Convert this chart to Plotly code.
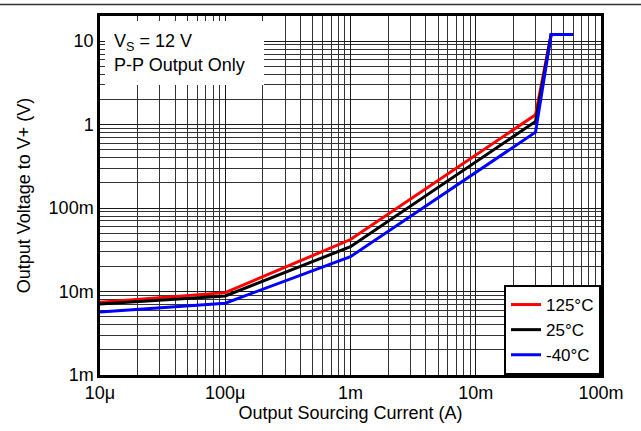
import plotly.graph_objects as go
import numpy as np

# Data (log-log)
current_a = [1e-5, 1e-4, 1e-3, 30e-3, 40e-3, 60e-3]
v_125c = [7.45e-3, 9.7e-3, 42e-3, 1.31, 12.0, 12.0]
v_25c = [7.1e-3, 8.85e-3, 34.5e-3, 1.09, 12.0, 12.0]
v_m40c = [5.7e-3, 7.25e-3, 26.2e-3, 0.81, 12.0, 12.0]

series_names = ["125°C", "25°C", "-40°C"]
series_colors = ["#FF0000", "#000000", "#0000FF"]

x_tickvals = [1e-5, 1e-4, 1e-3, 1e-2, 1e-1]
x_ticktext = ["10μ", "100μ", "1m", "10m", "100m"]
y_tickvals = [1e-3, 1e-2, 1e-1, 1, 10]
y_ticktext = ["1m", "10m", "100m", "1", "10"]

FONT = "Liberation Sans, Arial, sans-serif"

fig = go.Figure()
for name, vals, col in zip(series_names, [v_125c, v_25c, v_m40c], series_colors):
    fig.add_trace(go.Scatter(x=current_a, y=vals, mode="lines", name=name,
                             line=dict(color=col, width=3)))

x_minor = [m * 10.0 ** e for e in range(-5, -1) for m in range(2, 10)]
y_minor = [m * 10.0 ** e for e in range(-3, 2) for m in range(2, 10)]
y_minor = [v for v in y_minor if v < 20]

W, H = 641, 431
L, R, T, B = 100, 40, 16, 56
pw, ph = W - L - R, H - T - B

axis_common = dict(
    showline=True, linecolor="black", linewidth=2.5, mirror=True,
    ticks="", showgrid=True, gridcolor="#1a1a1a", gridwidth=1,
    tickfont=dict(family=FONT, size=18, color="black"),
    zeroline=False, automargin=False,
)

fig.update_xaxes(type="log", range=[-5, -1], tickvals=x_tickvals, ticktext=x_ticktext,
                 minor=dict(tickvals=x_minor, showgrid=True, gridcolor="#333333", gridwidth=1, ticks=""),
                 title=dict(text="Output Sourcing Current (A)", font=dict(family=FONT, size=18, color="black"), standoff=0),
                 **axis_common)
fig.update_yaxes(type="log", range=[-3, np.log10(20)], tickvals=y_tickvals, ticktext=y_ticktext,
                 minor=dict(tickvals=y_minor, showgrid=True, gridcolor="#333333", gridwidth=1, ticks=""),
                 title=dict(text="Output Voltage to V+ (V)", font=dict(family=FONT, size=18, color="black"), standoff=14),
                 **axis_common)

# white text box behind condition label
fig.add_shape(type="rect", xref="paper", yref="paper",
              x0=(105 - L) / pw, x1=(264 - L) / pw,
              y0=1 - (85 - T) / ph, y1=1 - (21 - T) / ph,
              fillcolor="white", line=dict(width=0), layer="above")
fig.add_annotation(xref="paper", yref="paper", x=(112 - L) / pw, y=1 - (43 - T) / ph,
                   xanchor="left", yanchor="middle", showarrow=False,
                   text="V<sub>S</sub> = 12 V", font=dict(family=FONT, size=18, color="black"))
fig.add_annotation(xref="paper", yref="paper", x=(112 - L) / pw, y=1 - (65 - T) / ph,
                   xanchor="left", yanchor="middle", showarrow=False,
                   text="P-P Output Only", font=dict(family=FONT, size=18, color="black"))
# page header rule
fig.add_shape(type="line", xref="paper", yref="paper",
              x0=-L / pw, x1=1 + R / pw, y0=1 + (T - 4.5) / ph, y1=1 + (T - 4.5) / ph,
              line=dict(color="#333333", width=1.5))

fig.update_layout(
    width=W, height=H,
    margin=dict(l=L, r=R, t=T, b=B, autoexpand=False),
    paper_bgcolor="white", plot_bgcolor="white",
    font=dict(family=FONT, size=18, color="black"),
    showlegend=True,
    legend=dict(x=1, y=0, xanchor="right", yanchor="bottom",
                bgcolor="white", bordercolor="black", borderwidth=2,
                font=dict(family=FONT, size=17, color="black"),
                itemwidth=30, tracegroupgap=0),
)

fig.write_html("out.html",
               config={"displayModeBar": False},
               post_script="document.body.style.margin='0';document.body.style.padding='0';document.body.style.overflow='hidden';")
